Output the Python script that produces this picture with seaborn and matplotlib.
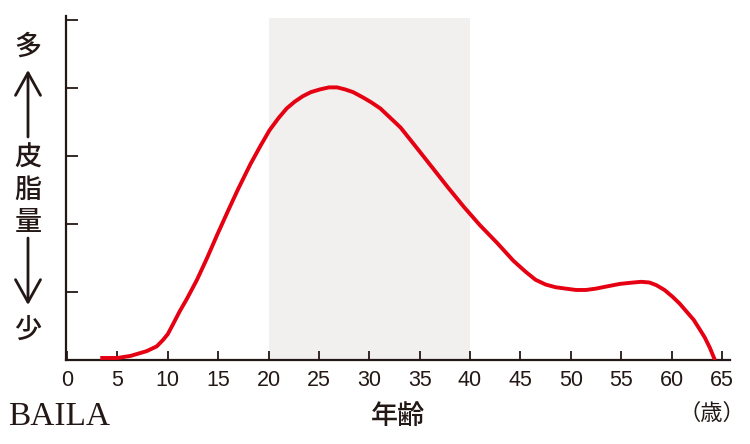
"""Skin oil amount by age - recreated line chart."""
import matplotlib
matplotlib.use('Agg')
import matplotlib.pyplot as plt
import pandas as pd
import seaborn as sns

# %%
# values
ages = [3.3, 5.0, 6.3, 7.9, 8.9, 9.5, 10.0, 10.5, 11.2, 11.9, 12.9, 13.9, 14.9, 16.0,
        17.0, 18.2, 19.2, 20.1, 21.0, 21.8, 22.6, 23.4, 24.2, 25.1, 26.0, 26.8, 27.6,
        28.4, 29.4, 30.2, 31.1, 32.1, 33.1, 34.5, 36.1, 37.8, 39.4, 41.0, 42.7, 44.3,
        45.5, 46.5, 47.5, 48.5, 49.5, 50.5, 51.5, 52.5, 53.5, 54.9, 56.2, 57.0, 57.8,
        58.5, 59.3, 60.1, 60.8, 61.5, 62.2, 62.8, 63.3, 63.8, 64.3]
sebum = [0.03, 0.03, 0.06, 0.13, 0.2, 0.29, 0.38, 0.52, 0.72, 0.9, 1.18, 1.5, 1.84, 2.2,
         2.52, 2.88, 3.15, 3.38, 3.56, 3.7, 3.8, 3.88, 3.94, 3.98, 4.01, 4.01, 3.98,
         3.94, 3.86, 3.79, 3.7, 3.56, 3.42, 3.16, 2.86, 2.54, 2.25, 1.98, 1.72, 1.46,
         1.3, 1.18, 1.11, 1.07, 1.05, 1.03, 1.03, 1.05, 1.08, 1.12, 1.14, 1.15, 1.14,
         1.1, 1.03, 0.93, 0.83, 0.71, 0.59, 0.45, 0.33, 0.18, 0.0]
x_ticks = list(range(0, 70, 5))
y_ticks = [0, 1, 2, 3, 4, 5]
highlight = (20, 40)

df = pd.DataFrame({'age': ages, 'sebum': sebum})

red = '#e50012'
dark = '#231815'
band = '#f1f0ee'

# %%
sns.set_style('white')
plt.rcParams['font.family'] = ['Noto Sans CJK JP', 'DejaVu Sans']

fig = plt.figure(figsize=(7.5, 4.44), dpi=100)
ax = fig.add_axes([66 / 750, 1 - 360 / 444, (730 - 66) / 750, (360 - 16) / 444])

ax.fill_between(highlight, 0, 5.03, color=band, lw=0, zorder=0)
sns.lineplot(data=df, x='age', y='sebum', ax=ax, color=red, lw=2.8, sort=False,
             estimator=None, zorder=3, solid_joinstyle='round', solid_capstyle='butt')

ax.set_xlim(-0.1, 65.8)
ax.set_ylim(0, 5.06)
ax.set_xticks(x_ticks)
ax.set_yticks(y_ticks)
ax.set_yticklabels([])
ax.set_xlabel('')
ax.set_ylabel('')
ax.tick_params(axis='x', direction='in', length=6.5, width=1.3, color=dark,
               labelsize=15.5, labelcolor=dark, pad=7, bottom=True)
ax.tick_params(axis='y', direction='in', length=8.5, width=1.3, color=dark, left=True)
for lab in ax.get_xticklabels():
    lab.set_fontfamily('Liberation Sans')

ax.spines['top'].set_visible(False)
ax.spines['right'].set_visible(False)
for s in ['left', 'bottom']:
    ax.spines[s].set_color(dark)
    ax.spines[s].set_linewidth(1.6)

# axis titles
fig.text(398 / 750, 1 - 416 / 444, '年齢', ha='center', va='center', fontsize=19.5,
         fontweight='medium', color=dark)
fig.text(712 / 750, 1 - 413 / 444, '（歳）', ha='center', va='center', fontsize=16,
         color=dark)

# vertical y label with arrows
xl = 28 / 750
for ch, yy in [('多', 47), ('皮', 158), ('脂', 190), ('量', 222), ('少', 330)]:
    fig.text(xl, 1 - yy / 444, ch, ha='center', va='center', fontsize=19.5,
             fontweight='medium', color=dark)
arrow = dict(arrowstyle='->,head_length=0.9,head_width=0.5', lw=2, color=dark,
             mutation_scale=18, shrinkA=0, shrinkB=0)
ax.annotate('', xy=(xl, 1 - 70 / 444), xytext=(xl, 1 - 137 / 444),
            xycoords='figure fraction', textcoords='figure fraction', arrowprops=arrow,
            annotation_clip=False)
ax.annotate('', xy=(xl, 1 - 305 / 444), xytext=(xl, 1 - 238 / 444),
            xycoords='figure fraction', textcoords='figure fraction', arrowprops=arrow,
            annotation_clip=False)

# logo
fig.text(8 / 750, 1 - 417 / 444, 'BAILA', ha='left', va='center', fontsize=24,
         fontfamily='Liberation Serif', color=dark)

plt.savefig('out.png', dpi=100)
